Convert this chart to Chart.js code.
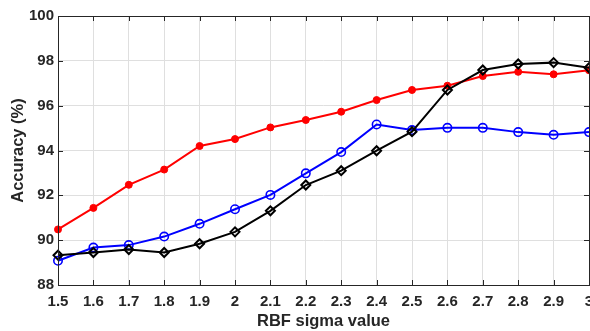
<!DOCTYPE html>
<html>
<head>
<meta charset="utf-8">
<script src="https://cdn.jsdelivr.net/npm/chart.js@4/dist/chart.umd.min.js"></script>
<style>
  html, body { margin: 0; padding: 0; background: #fff; }
  #acc-chart { display: block; }
</style>
</head>
<body>
<canvas id="acc-chart" width="590" height="331"></canvas>
<script>
// RBF sigma values on the x axis
const sigmaLabels = ['1.5', '1.6', '1.7', '1.8', '1.9', '2', '2.1', '2.2', '2.3', '2.4', '2.5', '2.6', '2.7', '2.8', '2.9', '3'];

// Accuracy (%) per sigma for each method
const accRed = [90.48, 91.44, 92.47, 93.15, 94.20, 94.51, 95.03, 95.36, 95.73, 96.25, 96.70, 96.89, 97.32, 97.51, 97.40, 97.58];
const accBlue = [89.08, 89.67, 89.78, 90.16, 90.73, 91.38, 92.02, 92.98, 93.93, 95.16, 94.91, 95.01, 95.01, 94.82, 94.70, 94.82];
const accBlack = [89.33, 89.45, 89.58, 89.45, 89.84, 90.37, 91.31, 92.46, 93.10, 93.99, 94.84, 96.70, 97.59, 97.86, 97.92, 97.69];

const yMin = 88;
const yMax = 100;
const yStep = 2;

const axisColor = '#262626';
const gridColor = '#dfdfdf';

// Box around the plot plus inward tick marks, MATLAB style
const boxAndTicks = {
    id: 'boxAndTicks',
    afterDatasetsDraw(chart) {
        const { ctx, chartArea: a, scales } = chart;
        const len = 5;
        ctx.save();
        ctx.strokeStyle = axisColor;
        ctx.lineWidth = 1;
        ctx.beginPath();
        scales.x.ticks.forEach((t, i) => {
            const px = Math.round(scales.x.getPixelForTick(i)) + 0.5;
            ctx.moveTo(px, a.bottom);
            ctx.lineTo(px, a.bottom - len);
            ctx.moveTo(px, a.top);
            ctx.lineTo(px, a.top + len);
        });
        scales.y.ticks.forEach(t => {
            const py = Math.round(scales.y.getPixelForValue(t.value)) + 0.5;
            ctx.moveTo(a.left, py);
            ctx.lineTo(a.left + len, py);
            ctx.moveTo(a.right, py);
            ctx.lineTo(a.right - len, py);
        });
        ctx.stroke();
        ctx.strokeRect(Math.round(a.left) + 0.5, Math.round(a.top) + 0.5,
            Math.round(a.right - a.left), Math.round(a.bottom - a.top));
        ctx.restore();
    }
};

const tickFont = { family: 'Liberation Sans, Arial, sans-serif', size: 15, weight: 'bold' };
const titleFont = { family: 'Liberation Sans, Arial, sans-serif', size: 16.5, weight: 'bold' };

new Chart(document.getElementById('acc-chart'), {
    type: 'line',
    data: {
        labels: sigmaLabels,
        datasets: [
            {
                label: 'black',
                data: accBlack,
                borderColor: '#000000',
                backgroundColor: 'rgba(0,0,0,0)',
                borderWidth: 2,
                pointStyle: 'rectRot',
                pointRadius: 4.5,
                pointBorderWidth: 2,
                pointBackgroundColor: 'rgba(0,0,0,0)',
                pointBorderColor: '#000000'
            },
            {
                label: 'blue',
                data: accBlue,
                borderColor: '#0000ff',
                backgroundColor: 'rgba(0,0,0,0)',
                borderWidth: 2,
                pointStyle: 'circle',
                pointRadius: 4.2,
                pointBorderWidth: 1.6,
                pointBackgroundColor: 'rgba(0,0,0,0)',
                pointBorderColor: '#0000ff'
            },
            {
                label: 'red',
                data: accRed,
                borderColor: '#ff0000',
                backgroundColor: '#ff0000',
                borderWidth: 2,
                pointStyle: 'circle',
                pointRadius: 3.5,
                pointBorderWidth: 1,
                pointBackgroundColor: '#ff0000',
                pointBorderColor: '#ff0000'
            }
        ]
    },
    options: {
        responsive: false,
        animation: false,
        devicePixelRatio: 1,
        layout: { autoPadding: false, padding: { top: 16, right: 1, left: 0, bottom: 0 } },
        plugins: {
            legend: { display: false },
            tooltip: { enabled: false }
        },
        elements: { line: { tension: 0 } },
        scales: {
            x: {
                type: 'category',
                offset: false,
                border: { display: false },
                grid: { color: gridColor, drawTicks: false },
                ticks: { color: axisColor, font: tickFont, padding: 8, maxRotation: 0, autoSkip: false },
                title: { display: true, text: 'RBF sigma value', color: axisColor, font: titleFont, padding: { top: 0, bottom: 0 } },
                afterFit(scale) {
                    scale.height = 46;
                    scale.paddingLeft = 0;
                    scale.paddingRight = 0;
                }
            },
            y: {
                min: yMin,
                max: yMax,
                border: { display: false },
                grid: { color: gridColor, drawTicks: false },
                ticks: { stepSize: yStep, color: axisColor, font: tickFont, padding: 4 },
                title: { display: true, text: 'Accuracy (%)', color: axisColor, font: titleFont, padding: { top: 9, bottom: 0 } },
                afterFit(scale) {
                    scale.width = 58;
                    scale.paddingTop = 0;
                    scale.paddingBottom = 0;
                }
            }
        }
    },
    plugins: [boxAndTicks]
});
</script>
</body>
</html>
